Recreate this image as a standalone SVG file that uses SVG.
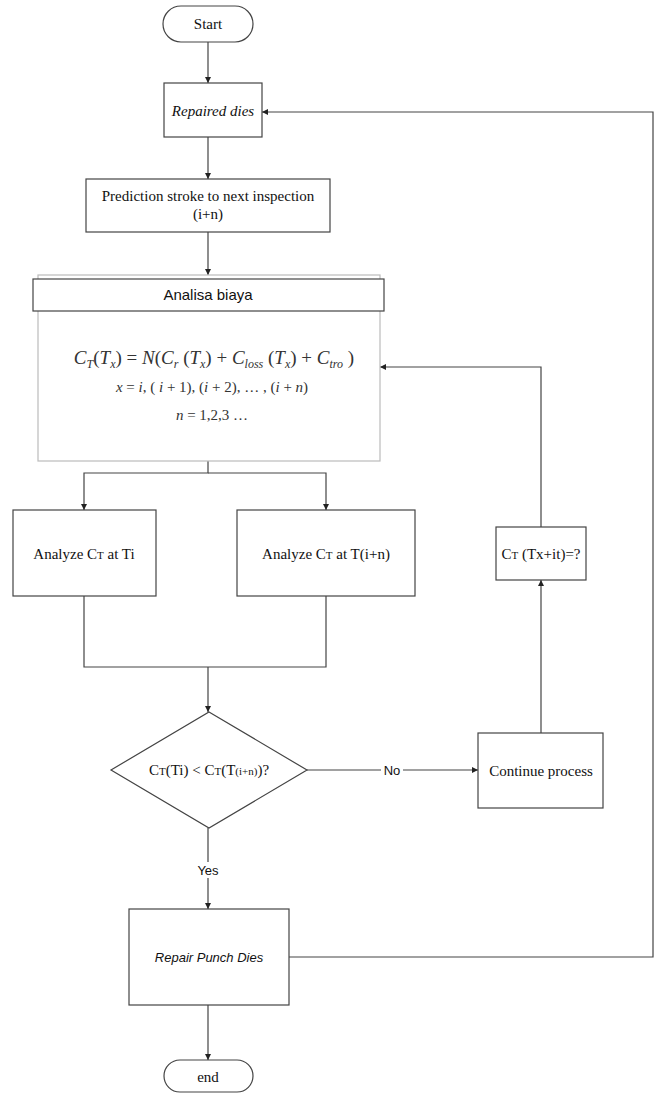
<svg xmlns="http://www.w3.org/2000/svg" width="657" height="1094" viewBox="0 0 657 1094">
<style>
.box{fill:#fff;stroke:#444;stroke-width:1.2}
.ln{fill:none;stroke:#444;stroke-width:1.2}
.t{font-family:"Liberation Serif",serif;font-size:15px;fill:#111;text-anchor:middle}
.s{font-family:"Liberation Sans",sans-serif;font-size:13px;fill:#111;text-anchor:middle}
.m{font-family:"Liberation Serif",serif;fill:#333;text-anchor:middle}
.i{font-style:italic}
.sc{font-size:11px}
.sb{font-size:12px}
</style>
<defs>
<marker id="ah" viewBox="0 0 10 10" refX="10" refY="5" markerWidth="6" markerHeight="6" orient="auto" markerUnits="userSpaceOnUse">
<path d="M0,0 L10,5 L0,10 Z" fill="#222"/>
</marker>
</defs>
<g id="connectors">
<path class="ln" d="M208,42 V83" marker-end="url(#ah)"/>
<path class="ln" d="M208,137 V179" marker-end="url(#ah)"/>
<path class="ln" d="M208,232 V275" marker-end="url(#ah)"/>
<path class="ln" d="M208,461 V473 H84 V510" marker-end="url(#ah)"/>
<path class="ln" d="M208,473 H326 V510" marker-end="url(#ah)"/>
<path class="ln" d="M84,596 V667 H326 V596"/>
<path class="ln" d="M208,667 V712" marker-end="url(#ah)"/>
<path class="ln" d="M307,770 H478" marker-end="url(#ah)"/>
<path class="ln" d="M541,733 V580" marker-end="url(#ah)"/>
<path class="ln" d="M541,527 V367 H380" marker-end="url(#ah)"/>
<path class="ln" d="M208,828 V862"/>
<path class="ln" d="M208,878 V909" marker-end="url(#ah)"/>
<path class="ln" d="M289,957 H653 V112 H262" marker-end="url(#ah)"/>
<path class="ln" d="M208,1005 V1060" marker-end="url(#ah)"/>
<rect x="381" y="763" width="22" height="14" fill="#fff"/>
<text class="s" x="392" y="775">No</text>
<text class="s" x="208" y="875">Yes</text>
</g>
<g id="start">
<rect class="box" x="163" y="6" width="90" height="36" rx="18"/>
<text class="t" x="208" y="29">Start</text>
</g>
<g id="repaired">
<rect class="box" x="164" y="83" width="98" height="54"/>
<text class="t i" x="213" y="116">Repaired dies</text>
</g>
<g id="prediction">
<rect class="box" x="86" y="179" width="244" height="53"/>
<text class="t" x="208" y="201">Prediction stroke to next inspection</text>
<text class="t" x="208" y="219">(i+n)</text>
</g>
<g id="analisa">
<rect x="38" y="275" width="342" height="186" fill="#fff" stroke="#bbb" stroke-width="1.2"/>
<rect class="box" x="33" y="279" width="351" height="32"/>
<text class="s" x="208" y="300" style="font-size:15px">Analisa biaya</text>
<text class="m" x="214" y="364" style="font-size:19px"><tspan class="i">C</tspan><tspan class="i sb" dy="4">T</tspan><tspan dy="-4">(</tspan><tspan class="i">T</tspan><tspan class="i sb" dy="4">x</tspan><tspan dy="-4">) = </tspan><tspan class="i">N</tspan><tspan>(</tspan><tspan class="i">C</tspan><tspan class="i sb" dy="4">r</tspan><tspan dy="-4"> (</tspan><tspan class="i">T</tspan><tspan class="i sb" dy="4">x</tspan><tspan dy="-4">) + </tspan><tspan class="i">C</tspan><tspan class="i sb" dy="4">loss</tspan><tspan dy="-4"> (</tspan><tspan class="i">T</tspan><tspan class="i sb" dy="4">x</tspan><tspan dy="-4">) + </tspan><tspan class="i">C</tspan><tspan class="i sb" dy="4">tro</tspan><tspan dy="-4"> )</tspan></text>
<text class="m" x="212" y="392" style="font-size:15px"><tspan class="i">x</tspan> = <tspan class="i">i</tspan>, ( <tspan class="i">i</tspan> + 1), (<tspan class="i">i</tspan> + 2), … , (<tspan class="i">i</tspan> + <tspan class="i">n</tspan>)</text>
<text class="m" x="212" y="420" style="font-size:15px"><tspan class="i">n</tspan> = 1,2,3 …</text>
</g>
<g id="analyze-ti">
<rect class="box" x="13" y="510" width="143" height="86"/>
<text class="t" x="84" y="559">Analyze C<tspan class="sc">T</tspan> at Ti</text>
</g>
<g id="analyze-tin">
<rect class="box" x="237" y="510" width="178" height="86"/>
<text class="t" x="326" y="559">Analyze C<tspan class="sc">T</tspan> at T(i+n)</text>
</g>
<g id="ct-question">
<rect class="box" x="496" y="527" width="90" height="53"/>
<text class="t" x="541" y="559">C<tspan class="sc">T</tspan> (Tx+it)=?</text>
</g>
<g id="decision">
<polygon class="box" points="209,712 307,770 209,828 111,770"/>
<text class="t" x="209" y="775">C<tspan class="sc">T</tspan>(Ti) &lt; C<tspan class="sc">T</tspan>(T<tspan class="sc">(i+n)</tspan>)?</text>
</g>
<g id="continue">
<rect class="box" x="478" y="733" width="125" height="75"/>
<text class="t" x="541" y="776">Continue process</text>
</g>
<g id="repair">
<rect class="box" x="129" y="909" width="160" height="96"/>
<text class="s i" x="209" y="962">Repair Punch Dies</text>
</g>
<g id="end">
<rect class="box" x="164" y="1060" width="89" height="32" rx="16"/>
<text class="t" x="208" y="1082">end</text>
</g>
</svg>
